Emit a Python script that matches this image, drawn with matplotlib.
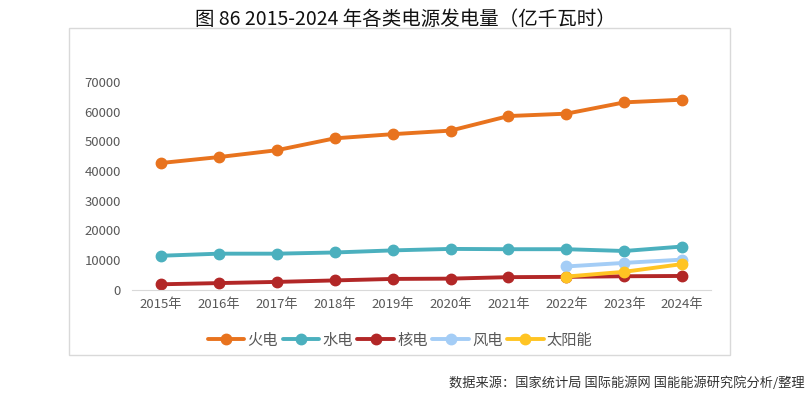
import matplotlib
matplotlib.use("Agg")
from matplotlib import pyplot as plt
from matplotlib.patches import Rectangle
import numpy as np

plt.rcParams['font.family'] = ['Noto Sans CJK SC', 'DejaVu Sans']

# data (亿千瓦时)
years = ["2015年", "2016年", "2017年", "2018年", "2019年",
         "2020年", "2021年", "2022年", "2023年", "2024年"]
thermal = [42700, 44700, 47000, 51000, 52400, 53600, 58500, 59300, 63100, 64000]
hydro = [11500, 12200, 12200, 12600, 13300, 13800, 13700, 13700, 13100, 14600]
nuclear = [1900, 2300, 2700, 3200, 3700, 3800, 4300, 4400, 4600, 4700]
wind = [None] * 7 + [7900, 9100, 10200]
solar = [None] * 7 + [4500, 6100, 8700]

series = [
    ("火电", thermal, "#E8731E"),
    ("水电", hydro, "#4BB0BE"),
    ("核电", nuclear, "#B22727"),
    ("风电", wind, "#A4CDF6"),
    ("太阳能", solar, "#FFC423"),
]

fig = plt.figure(figsize=(8.1, 3.95), dpi=100)
ax = fig.add_axes([0.163, 0.266, 0.715, 0.602])

x = np.arange(len(years))
for name, vals, col in series:
    v = np.array([np.nan if a is None else a for a in vals], dtype=float)
    ax.plot(x, v, color=col, lw=2.8, marker="o", ms=7.5, label=name,
            solid_capstyle="round")

ax.set_xlim(-0.5, len(years) - 0.5)
ax.set_ylim(0, 80000)
ax.set_yticks(np.arange(0, 70001, 10000))
ax.set_xticks(x)
ax.set_xticklabels(years)
for s in ["top", "right", "left"]:
    ax.spines[s].set_visible(False)
ax.spines["bottom"].set_color("#D9D9D9")
ax.tick_params(axis="both", length=0, labelsize=9.5, colors="#595959", pad=6)
ax.tick_params(axis="y", pad=8)

fig.patches.append(Rectangle((69 / 810, 1 - 355 / 395), 661 / 810, 327 / 395,
                             transform=fig.transFigure, fill=False,
                             edgecolor="#D9D9D9", lw=1, zorder=0))

fig.legend(loc="center", bbox_to_anchor=(0.494, 0.139), ncol=5, frameon=False,
           fontsize=11, handlelength=2.4, handletextpad=0.2, columnspacing=0.3,
           labelcolor="#595959")

fig.text(0.5, 0.978, "图 86 2015-2024 年各类电源发电量（亿千瓦时）",
         ha="center", va="top", fontsize=14, color="#111111", weight="medium")
fig.text(0.993, 0.03, "数据来源：国家统计局 国际能源网 国能能源研究院分析/整理",
         ha="right", va="center", fontsize=9.5, color="#333333")

fig.savefig("out.png", dpi=100)
